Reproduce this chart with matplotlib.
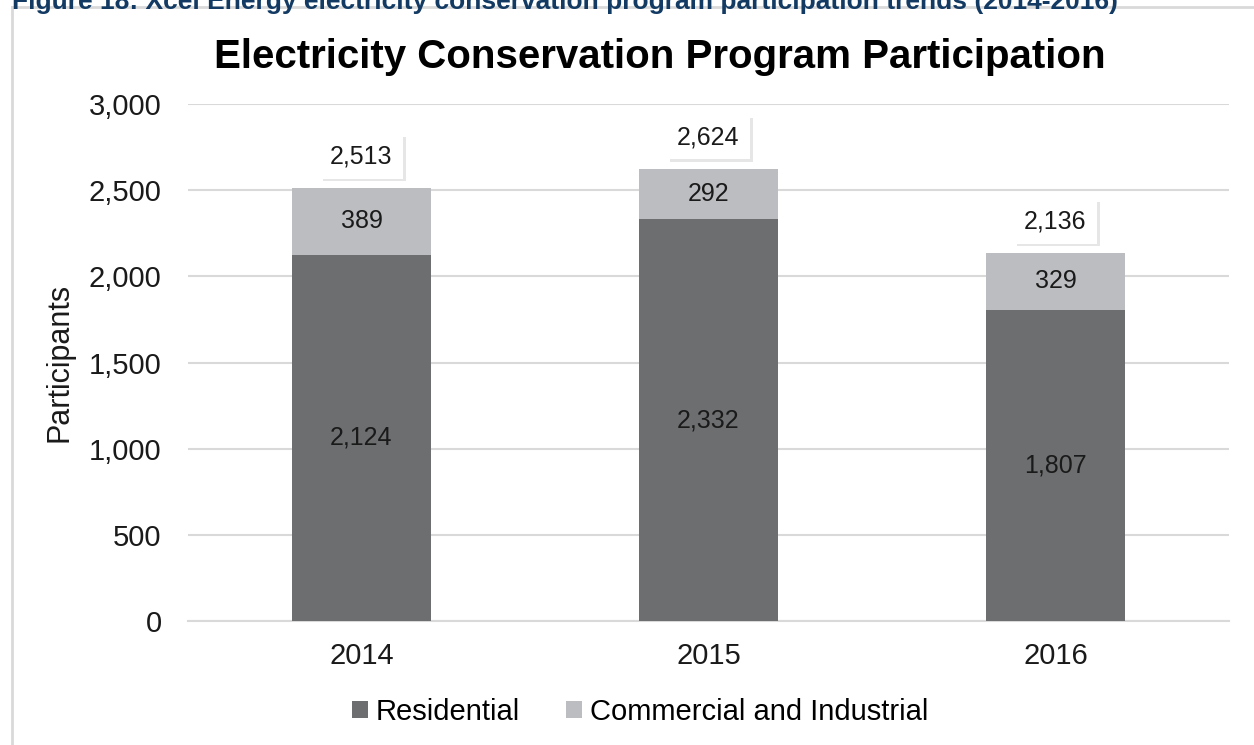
import matplotlib
matplotlib.use("Agg")
import matplotlib.pyplot as plt
import matplotlib.patheffects as pe
from matplotlib.lines import Line2D
from matplotlib.ticker import FuncFormatter

plt.rcParams["font.family"] = ["Liberation Sans", "DejaVu Sans"]

# participation by year
years = ["2014", "2015", "2016"]
residential = [2124, 2332, 1807]
commercial = [389, 292, 329]
totals = [r + c for r, c in zip(residential, commercial)]

COR_RES = "#6D6E70"
COR_COM = "#BCBDC0"
COR_GRADE = "#D9D9D9"

W, H = 1254, 745
fig = plt.figure(figsize=(W / 100, H / 100), dpi=100)
ax = fig.add_axes([188 / W, 1 - 621 / H, (1229 - 188) / W, (621 - 104) / H])

# legenda de figura cortada no topo
fig.text(12 / W, 1 - 9 / H,
         "Figure 18: Xcel Energy electricity conservation program participation trends (2014-2016)",
         fontsize=19, fontweight="bold", color="#123A63", ha="left", va="baseline")

# moldura cinza do grafico
fig.add_artist(Line2D([12 / W, 1.0], [1 - 7 / H, 1 - 7 / H], transform=fig.transFigure,
                      color=COR_GRADE, lw=2))
fig.add_artist(Line2D([12 / W, 12 / W], [0, 1 - 7 / H], transform=fig.transFigure,
                      color=COR_GRADE, lw=2))

x = list(range(len(years)))
largura = 0.4
b1 = ax.bar(x, residential, largura, color=COR_RES, label="Residential", zorder=3)
b2 = ax.bar(x, commercial, largura, bottom=residential, color=COR_COM,
            label="Commercial and Industrial", zorder=3)

for i in x:
    ax.text(i, residential[i] / 2, f"{residential[i]:,}", ha="center", va="center",
            fontsize=18, color="#1A1A1A", zorder=4)
    ax.text(i, residential[i] + commercial[i] / 2, f"{commercial[i]:,}", ha="center",
            va="center", fontsize=18, color="#1A1A1A", zorder=4)
    t = ax.text(i, totals[i] + 182, f"{totals[i]:,}", ha="center", va="center",
                fontsize=18, color="#1A1A1A", zorder=5,
                bbox=dict(boxstyle="square,pad=0.4", fc="white", ec="none"))
    t.get_bbox_patch().set_path_effects(
        [pe.SimplePatchShadow(offset=(2, -2), shadow_rgbFace="#C8C8C8", alpha=0.45),
         pe.Normal()])

ax.set_xlim(-0.5, 2.5)
ax.set_ylim(0, 3000)
ax.set_yticks(range(0, 3001, 500))
ax.yaxis.set_major_formatter(FuncFormatter(lambda v, p: f"{int(v):,}"))
ax.set_xticks(x)
ax.set_xticklabels(years)
ax.tick_params(axis="both", length=0, labelsize=21, colors="#1A1A1A")
ax.tick_params(axis="y", pad=19)
ax.tick_params(axis="x", pad=15)
ax.grid(axis="y", color=COR_GRADE, lw=1.5, zorder=0)
for s in ["top", "right", "left"]:
    ax.spines[s].set_visible(False)
ax.spines["bottom"].set_color(COR_GRADE)
ax.spines["bottom"].set_linewidth(1.5)

ax.set_ylabel("Participants", fontsize=22, color="#1A1A1A", labelpad=10)
fig.text(660 / W, 1 - 57 / H, "Electricity Conservation Program Participation",
         fontsize=29, fontweight="bold", ha="center", va="center", color="black")

fig.legend(handles=[b1, b2], loc="center", bbox_to_anchor=(640 / W, 1 - 712 / H),
           ncol=2, frameon=False, fontsize=21, handlelength=0.55, handleheight=0.55,
           handletextpad=0.25, columnspacing=1.6)

fig.savefig("out.png", dpi=100)
